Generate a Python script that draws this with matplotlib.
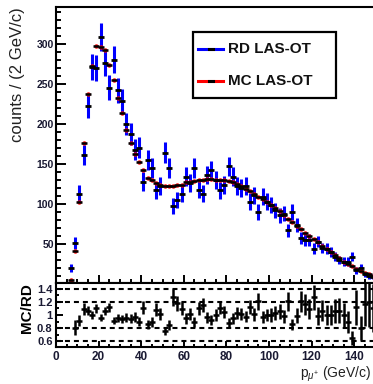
import numpy as np
import matplotlib
matplotlib.use("Agg")
import matplotlib.pyplot as plt
from matplotlib.patches import Rectangle
from matplotlib.lines import Line2D
from matplotlib.ticker import MultipleLocator

plt.rcParams['font.family'] = ['Liberation Sans', 'DejaVu Sans']
plt.rcParams['mathtext.fontset'] = 'custom'
plt.rcParams['mathtext.rm'] = 'Liberation Sans'
plt.rcParams['mathtext.it'] = 'Liberation Sans:italic'

# Bin centres of p_mu+ (2 GeV/c bins).
p_center = [7, 9, 11, 13, 15, 17, 19, 21, 23, 25, 27, 29, 31, 33, 35, 37,
            39, 41, 43, 45, 47, 49, 51, 53, 55, 57, 59, 61, 63, 65, 67, 69,
            71, 73, 75, 77, 79, 81, 83, 85, 87, 89, 91, 93, 95, 97, 99, 101,
            103, 105, 107, 109, 111, 113, 115, 117, 119, 121, 123, 125, 127,
            129, 131, 133, 135, 137, 139, 141, 143, 145, 147, 149]

# Real data counts (RD LAS-OT).
rd_counts = [20, 51, 113, 161, 222, 271, 270, 309, 276, 245, 280, 242, 228,
             200, 187, 168, 170, 128, 155, 145, 117, 122, 164, 145, 97, 105,
             113, 134, 126, 145, 118, 113, 136, 142, 130, 117, 124, 147, 134,
             122, 120, 122, 103, 111, 90, 109, 103, 99, 92, 86, 88, 67, 90,
             74, 57, 55, 55, 44, 53, 45, 44, 40, 34, 30, 28, 28, 34, 17, 20,
             12, 10, 9]

# Monte Carlo counts (MC LAS-OT).
mc_counts = [5, 41, 103, 176, 237, 272, 297, 296, 292, 274, 255, 232, 214,
             192, 176, 163, 152, 142, 133, 130, 126, 124, 123, 123, 123, 124,
             124, 127, 128, 129, 130, 130, 131, 131, 130, 130, 130, 129, 127,
             125, 122, 119, 116, 112, 109, 106, 103, 99, 95, 91, 86, 81, 77,
             73, 69, 64, 60, 56, 52, 48, 44, 40, 36, 32, 28, 25, 22, 19, 16,
             14, 12, 10]

x = np.array(p_center, dtype=float)
rd = np.array(rd_counts, dtype=float)
mc = np.array(mc_counts, dtype=float)
rd_err = np.sqrt(rd)
ratio = mc / rd
ratio_err = ratio / np.sqrt(rd)

W, H = 373, 384
fig = plt.figure(figsize=(W / 100, H / 100), dpi=100)


def fx(px):
    return px / W


def fy(py):
    return 1 - py / H


x_left, x_right = 56, 375.5
ax = fig.add_axes([fx(x_left), fy(283), fx(x_right) - fx(x_left), fy(7) - fy(283)])
ax2 = fig.add_axes([fx(x_left), fy(347), fx(x_right) - fx(x_left), fy(283) - fy(347)])

# Main panel
ax.errorbar(x, rd, yerr=rd_err, fmt='none', ecolor='#0000ff', elinewidth=2.2,
            capsize=0, zorder=2)
ax.plot(x, mc, 'o', color='#ff0000', ms=3.2, mew=0, zorder=3)
ax.plot(x, mc, '_', color='black', ms=4.5, mew=1.8, zorder=4)
ax.plot(x, rd, '_', color='black', ms=5, mew=2, zorder=4)

ax.set_xlim(0, 150)
ax.set_ylim(1.25, 346)
ax.xaxis.set_major_locator(MultipleLocator(20))
ax.xaxis.set_minor_locator(MultipleLocator(5))
ax.yaxis.set_major_locator(MultipleLocator(50))
ax.yaxis.set_minor_locator(MultipleLocator(10))
ax.set_yticks([50, 100, 150, 200, 250, 300])
ax.tick_params(axis='both', which='both', direction='in', top=False,
               right=False, width=1.4)
ax.tick_params(axis='x', which='major', length=5.5, labelbottom=False)
ax.tick_params(axis='x', which='minor', length=3)
ax.tick_params(axis='y', which='major', length=7, labelsize=7.5, pad=1.5,
               labelcolor='#1a1a33')
ax.tick_params(axis='y', which='minor', length=3.5)
for lab in ax.get_yticklabels():
    lab.set_fontweight('bold')
for s in ax.spines.values():
    s.set_linewidth(1.5)

# Ratio panel
for v in [0.6, 0.8, 1.2, 1.4]:
    ax2.axhline(v, color='black', lw=1.5, ls=(0, (2.4, 1.9)), zorder=1)
ax2.errorbar(x, ratio, yerr=ratio_err, fmt='none', ecolor='black',
             elinewidth=1.8, capsize=0, zorder=2)
ax2.plot(x, ratio, '_', color='black', ms=5, mew=1.8, zorder=3)
ax2.set_xlim(0, 150)
ax2.set_ylim(0.51, 1.49)
ax2.set_yticks([0.6, 0.8, 1.0, 1.2, 1.4])
ax2.set_yticklabels(['0.6', '0.8', '1', '1.2', '1.4'])
ax2.xaxis.set_major_locator(MultipleLocator(20))
ax2.xaxis.set_minor_locator(MultipleLocator(5))
ax2.yaxis.set_minor_locator(MultipleLocator(0.1))
ax2.tick_params(axis='both', which='both', direction='in', top=False,
                right=False, width=1.4)
ax2.tick_params(axis='x', which='major', length=4, labelsize=8.5, pad=3,
                labelcolor='#1a1a33')
ax2.tick_params(axis='x', which='minor', length=2)
ax2.tick_params(axis='y', which='major', length=5, labelsize=8, pad=2.5,
                labelcolor='#1a1a33')
ax2.tick_params(axis='y', which='minor', length=2.5)
for lab in ax2.get_xticklabels() + ax2.get_yticklabels():
    lab.set_fontweight('bold')
for s in ax2.spines.values():
    s.set_linewidth(1.5)

# Axis titles
fig.text(fx(18), fy(7), 'counts / (2 GeV/c)', rotation=90, ha='center',
         va='top', fontsize=12, color='#222222')
fig.text(fx(27), fy(283), 'MC/RD', rotation=90, ha='center', va='top',
         fontsize=11, fontweight='bold', color='black')
fig.text(fx(371), fy(378), r'p$_{\mu^{+}}$ (GeV/c)', ha='right',
         va='baseline', fontsize=10, color='#222222')

# Legend
fig.add_artist(Rectangle((fx(193), fy(98)), fx(336) - fx(193), fy(32) - fy(98),
                         transform=fig.transFigure, facecolor='white',
                         edgecolor='black', lw=1.6, zorder=5))
for py, col, name in [(49, '#0000ff', 'RD LAS-OT'), (81, '#ff0000', 'MC LAS-OT')]:
    fig.add_artist(Line2D([fx(198), fx(223)], [fy(py), fy(py)],
                          transform=fig.transFigure, color=col, lw=2.2, zorder=6))
    fig.add_artist(Line2D([fx(209), fx(213)], [fy(py), fy(py)],
                          transform=fig.transFigure, color='black', lw=2.2, zorder=7))
    fig.text(fx(228), fy(py), name, ha='left', va='center', fontsize=11,
             fontweight='bold', color='#111111', zorder=8)

fig.savefig('out.png', dpi=100)
